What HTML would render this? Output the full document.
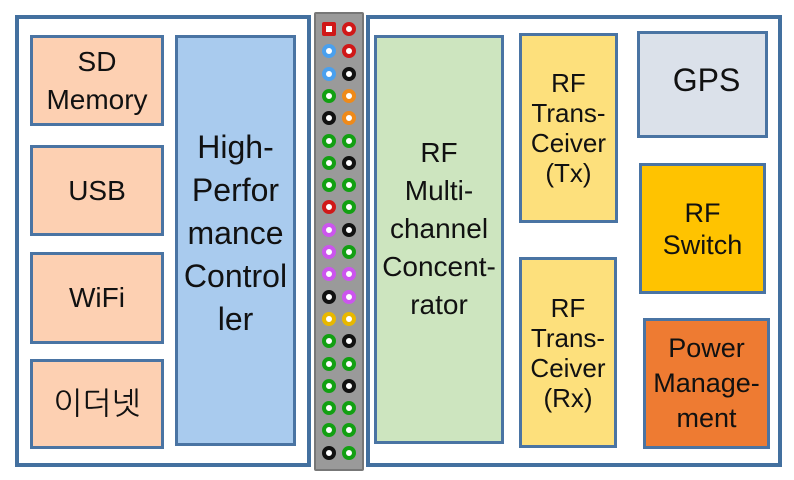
<!DOCTYPE html>
<html><head><meta charset="utf-8"><style>
body{margin:0;width:794px;height:480px;background:#fff;position:relative;overflow:hidden;font-family:"Liberation Sans","NanumGothic",sans-serif;color:#111}
.b{position:absolute;box-sizing:border-box;border:3px solid #4a74a3;display:flex;align-items:center;justify-content:center;text-align:center}
.o{position:absolute;box-sizing:border-box;border:4px solid #43709f}
.t{font-size:28px;line-height:38px}
.pin{position:absolute;width:14px;height:14px;border-radius:50%;box-sizing:border-box;border:4.5px solid #000;background:#fff}
</style></head><body>
<div class="o" style="left:15px;top:15px;width:296px;height:452px"></div>
<div class="o" style="left:366px;top:15px;width:416px;height:452px"></div>
<div style="position:absolute;left:314px;top:12px;width:50px;height:459px;background:#9a9a9a;border:2px solid #777;box-sizing:border-box;border-radius:2px"></div>
<div class="b t" style="left:30px;top:35px;width:134px;height:91px;background:#fdd0b2">SD<br>Memory</div>
<div class="b t" style="left:30px;top:145px;width:134px;height:91px;background:#fdd0b2">USB</div>
<div class="b t" style="left:30px;top:252px;width:134px;height:92px;background:#fdd0b2">WiFi</div>
<div class="b t" style="left:30px;top:359px;width:134px;height:90px;background:#fdd0b2;font-size:31px">이더넷</div>
<div class="b" style="left:175px;top:35px;width:121px;height:411px;background:#a9cbee;font-size:32px;line-height:43px;padding-bottom:14px">High-<br>Perfor<br>mance<br>Control<br>ler</div>
<div class="b" style="left:374px;top:35px;width:130px;height:409px;background:#cde5bf;font-size:28px;line-height:38px;padding-bottom:22px">RF<br>Multi-<br>channel<br>Concent-<br>rator</div>
<div class="b" style="left:519px;top:33px;width:99px;height:190px;background:#fde07c;font-size:26px;line-height:30px">RF<br>Trans-<br>Ceiver<br>(Tx)</div>
<div class="b" style="left:519px;top:257px;width:98px;height:191px;background:#fde07c;font-size:26px;line-height:30px">RF<br>Trans-<br>Ceiver<br>(Rx)</div>
<div class="b" style="left:637px;top:31px;width:131px;height:107px;background:#dbe1ea;font-size:32px;padding-left:8px;padding-bottom:8px">GPS</div>
<div class="b" style="left:639px;top:163px;width:127px;height:131px;background:#ffc300;font-size:27px;line-height:32px">RF<br>Switch</div>
<div class="b" style="left:643px;top:318px;width:127px;height:131px;background:#ee7b32;font-size:27px;line-height:35px">Power<br>Manage-<br>ment</div>
<div id="pins"></div>
<script>
var c={r:'#d01818',b:'#4aa0ee',k:'#111',g:'#12a012',o:'#ee8a1a',p:'#cc55ee',y:'#e8b800'};
var rows=['rr','br','bk','go','ko','gg','gk','gg','rg','pk','pg','pp','kp','yy','gk','gg','gk','gg','gg','kg'];
var h='';
rows.forEach(function(s,i){var y=22+i*22.3;
[[322,s[0]],[342,s[1]]].forEach(function(p){h+='<div class="pin" style="left:'+p[0]+'px;top:'+y+'px;border-color:'+c[p[1]]+(i==0&&p[0]==322?';border-radius:2px':'')+'"></div>';});});
document.getElementById('pins').innerHTML=h;
</script>
</body></html>
